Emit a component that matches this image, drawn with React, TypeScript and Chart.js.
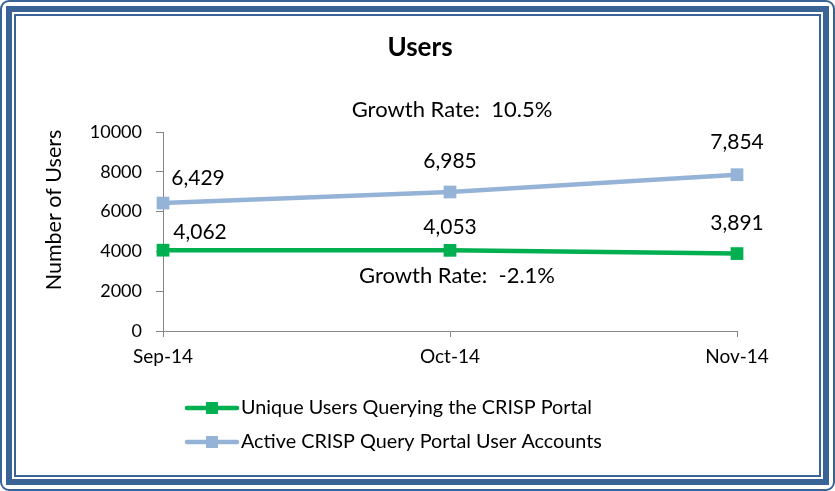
import React, { useEffect, useRef } from 'react';
import { Chart, registerables } from 'chart.js';

Chart.register(...registerables);

const categories = ['Sep-14', 'Oct-14', 'Nov-14'];
const uniqueUsers = [4062, 4053, 3891];
const activeAccounts = [6429, 6985, 7854];
const seriesNames = ['Unique Users Querying the CRISP Portal', 'Active CRISP Query Portal User Accounts'];
const seriesColors = ['#00B050', '#95B3D7'];
const yMin = 0;
const yMax = 10000;
const yStep = 2000;
const chartTitle = 'Users';
const yAxisTitle = 'Number of Users';
const growthNotes = ['Growth Rate:  10.5%', 'Growth Rate:  -2.1%'];
const growthAnchorIndex = [1, 1];
const growthAnchorValue = [11100, 2760];

const FONT = 'Lato';
const BORDER = '#3B6496';
const AXIS = '#868686';

// label placement offsets (px) per series / point
const labelOffsets = [
  [[37, -18], [0, -23], [0, -30]],
  [[35, -25], [0, -31], [0, -32]],
];
const growthDx = [2, 7];

const overlayPlugin = {
  id: 'overlay',
  afterDatasetsDraw(chart: any) {
    const ctx = chart.ctx as CanvasRenderingContext2D;
    const xs = chart.scales.x;
    const ys = chart.scales.y;
    ctx.save();
    ctx.fillStyle = '#000';
    ctx.textAlign = 'center';
    ctx.textBaseline = 'middle';
    ctx.font = `21px ${FONT}`;
    chart.data.datasets.forEach((ds: any, di: number) => {
      const meta = chart.getDatasetMeta(di);
      meta.data.forEach((pt: any, i: number) => {
        const [dx, dy] = labelOffsets[di][i];
        ctx.fillText(Number(ds.data[i]).toLocaleString('en-US'), pt.x + dx, pt.y + dy);
      });
    });
    ctx.font = `22px ${FONT}`;
    growthNotes.forEach((t, k) => {
      const x = xs.getPixelForValue(growthAnchorIndex[k]) + growthDx[k];
      const y = ys.getPixelForValue(growthAnchorValue[k]);
      ctx.fillText(t, x, y);
    });
    // title
    ctx.font = `bold 26px ${FONT}`;
    ctx.fillText(chartTitle, 420, 48);
    // y axis title
    ctx.font = `21.5px ${FONT}`;
    ctx.save();
    ctx.translate(54, 210);
    ctx.rotate(-Math.PI / 2);
    ctx.fillText(yAxisTitle, 0, 0);
    ctx.restore();
    // legend
    const left = chart.chartArea.left + 24;
    chart.data.datasets.forEach((ds: any, di: number) => {
      const y = 408 + di * 34;
      ctx.strokeStyle = ds.borderColor;
      ctx.lineWidth = 4.5;
      ctx.lineCap = 'round';
      ctx.beginPath();
      ctx.moveTo(left, y);
      ctx.lineTo(left + 50, y);
      ctx.stroke();
      ctx.fillStyle = ds.backgroundColor;
      ctx.fillRect(left + 25 - 6, y - 6, 12, 12);
      ctx.fillStyle = '#000';
      ctx.textAlign = 'left';
      ctx.font = `19.8px ${FONT}`;
      ctx.fillText(ds.label, left + 54, y);
    });
    ctx.restore();
  },
};

export default function App() {
  const ref = useRef<HTMLCanvasElement | null>(null);
  useEffect(() => {
    if (!ref.current) return;
    Chart.defaults.font.family = FONT;
    const chart = new Chart(ref.current, {
      type: 'line',
      data: {
        labels: categories,
        datasets: [
          {
            label: seriesNames[0],
            data: uniqueUsers,
            borderColor: seriesColors[0],
            backgroundColor: seriesColors[0],
            borderWidth: 4.5,
            pointStyle: 'rect',
            pointRadius: 9,
            pointHoverRadius: 9,
            pointBorderWidth: 0,
            tension: 0,
            clip: false as any,
          },
          {
            label: seriesNames[1],
            data: activeAccounts,
            borderColor: seriesColors[1],
            backgroundColor: seriesColors[1],
            borderWidth: 4.5,
            pointStyle: 'rect',
            pointRadius: 9,
            pointHoverRadius: 9,
            pointBorderWidth: 0,
            tension: 0,
            clip: false as any,
          },
        ],
      },
      options: {
        animation: false,
        responsive: false,
        maintainAspectRatio: false,
        events: [],
        layout: { padding: { top: 132, right: 98, bottom: 0, left: 0 } },
        plugins: {
          legend: { display: false },
          title: { display: false },
          tooltip: { enabled: false },
        },
        scales: {
          x: {
            type: 'category',
            offset: false,
            afterFit: (s: any) => { s.height = 160; },
            grid: { drawOnChartArea: false, drawTicks: true, tickLength: 6, color: AXIS, lineWidth: 1 },
            border: { display: true, color: AXIS, width: 1 },
            ticks: { color: '#000', font: { size: 19, family: FONT }, padding: 8, maxRotation: 0 },
          },
          y: {
            min: yMin,
            max: yMax,
            afterFit: (s: any) => { s.width = 163; },
            grid: { drawOnChartArea: false, drawTicks: true, tickLength: 7, color: AXIS, lineWidth: 1 },
            border: { display: true, color: AXIS, width: 1 },
            ticks: {
              stepSize: yStep,
              color: '#000',
              font: { size: 18, family: FONT },
              padding: 14,
              callback: (v: any) => String(v),
            },
          },
        },
      },
      plugins: [overlayPlugin],
    });
    return () => chart.destroy();
  }, []);

  const box = (inset: number, w: number, radius = 0): React.CSSProperties => ({
    position: 'absolute',
    left: inset,
    top: inset,
    width: 835 - inset * 2,
    height: 491 - inset * 2,
    boxSizing: 'border-box',
    border: `${w}px solid ${BORDER}`,
    borderRadius: radius,
    pointerEvents: 'none',
  });

  return (
    <div style={{ position: 'fixed', left: 0, top: 0, width: 835, height: 491, background: '#fff', overflow: 'hidden' }}>
      <canvas ref={ref} width={835} height={491} style={{ position: 'absolute', left: 0, top: 0, width: 835, height: 491 }} />
      <div style={box(0, 2, 9)} />
      <div style={box(6, 6)} />
      <div style={box(14, 2)} />
    </div>
  );
}
